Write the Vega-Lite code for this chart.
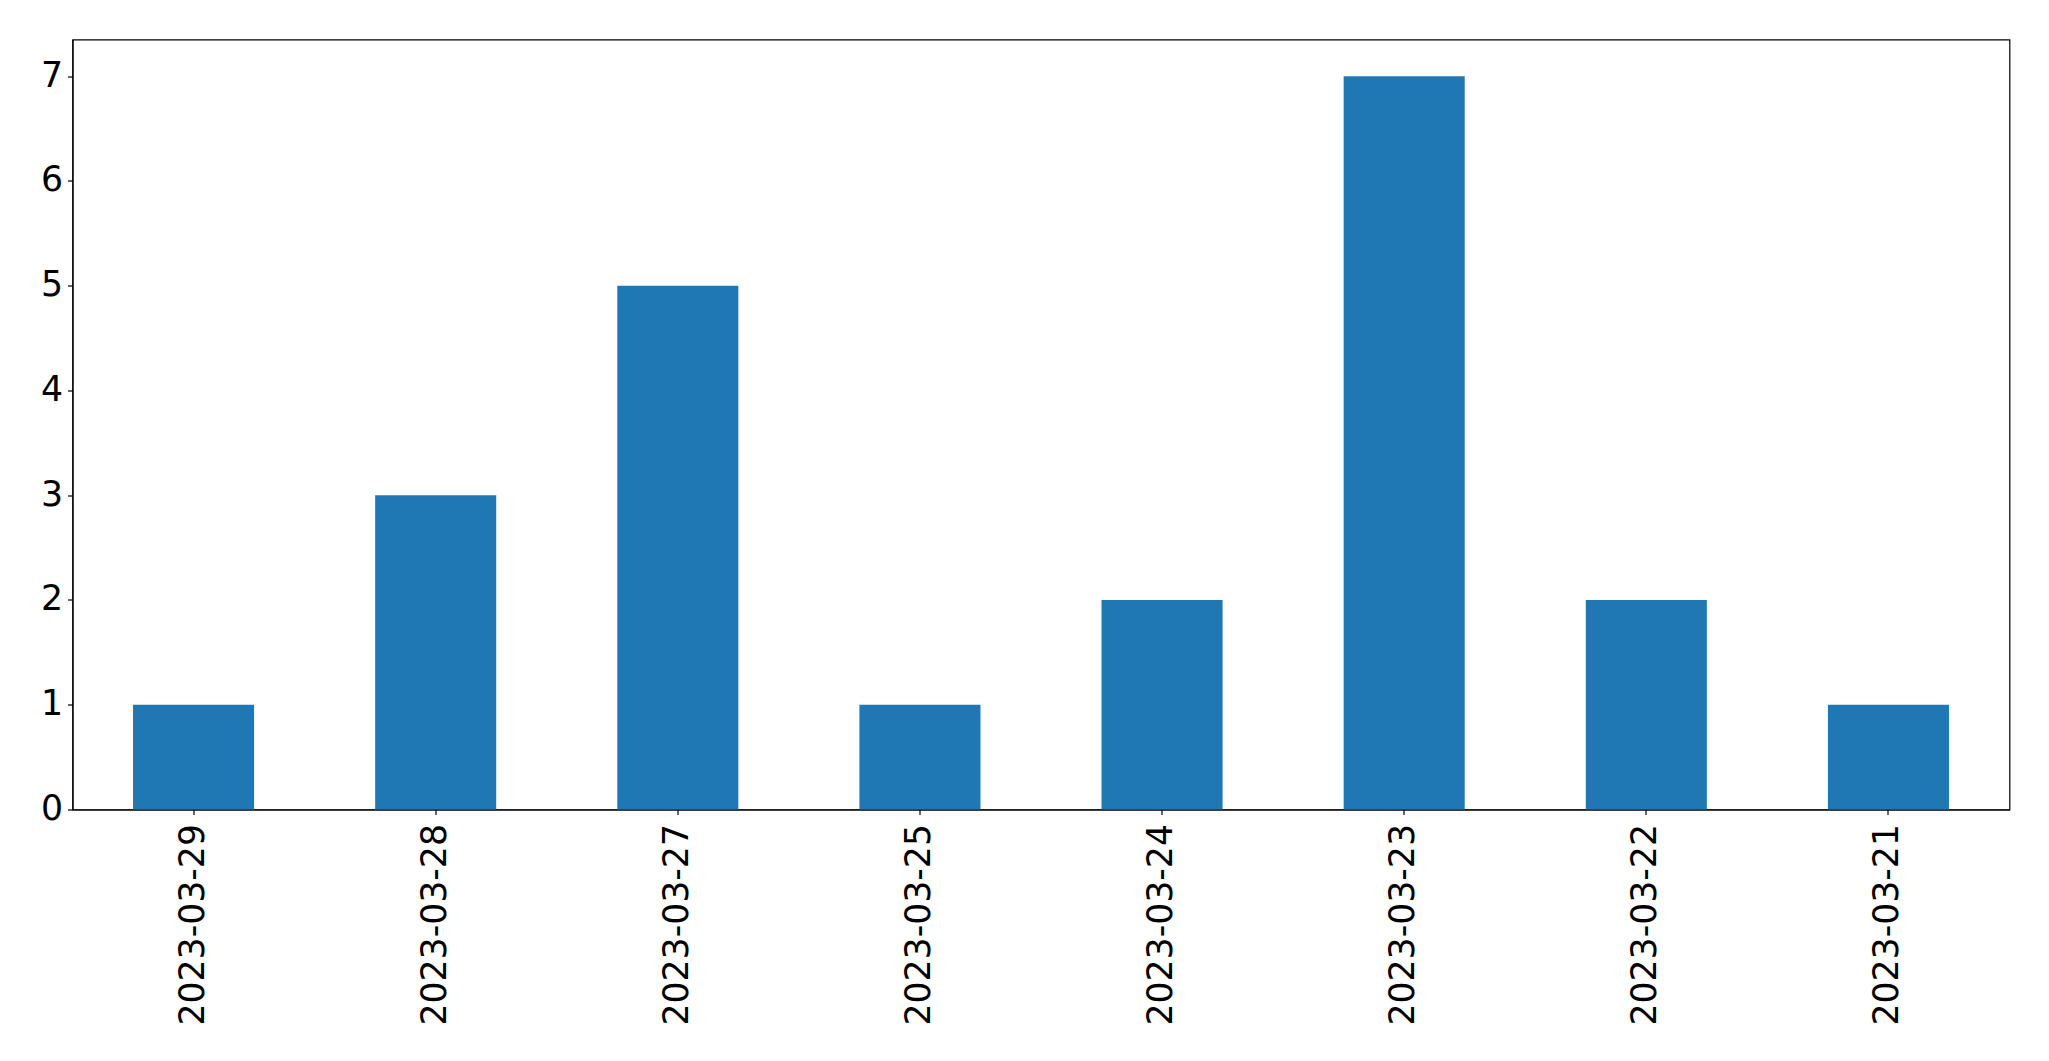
{
  "$schema": "https://vega.github.io/schema/vega-lite/v6.json",
  "autosize": "none",
  "width": 1937,
  "height": 770,
  "padding": {"left": 72.5, "top": 39.5, "right": 39, "bottom": 251},
  "background": "white",
  "config": {
    "view": {"stroke": "black", "strokeWidth": 1.2},
    "font": "DejaVu Sans"
  },
  "data": {
    "values": [
      {"date": "2023-03-29", "count": 1},
      {"date": "2023-03-28", "count": 3},
      {"date": "2023-03-27", "count": 5},
      {"date": "2023-03-25", "count": 1},
      {"date": "2023-03-24", "count": 2},
      {"date": "2023-03-23", "count": 7},
      {"date": "2023-03-22", "count": 2},
      {"date": "2023-03-21", "count": 1}
    ]
  },
  "mark": {"type": "bar", "color": "#1f77b4"},
  "encoding": {
    "x": {
      "field": "date",
      "type": "nominal",
      "sort": null,
      "scale": {"paddingInner": 0.5, "paddingOuter": 0.25},
      "axis": {
        "title": null,
        "labelAngle": -90,
        "labelFont": "DejaVu Sans",
        "labelFontSize": 34.7,
        "labelLimit": 0,
        "labelColor": "black",
        "labelPadding": 9,
        "tickColor": "black",
        "tickSize": 5,
        "tickWidth": 1.2,
        "domainColor": "black",
        "domainWidth": 1.2
      }
    },
    "y": {
      "field": "count",
      "type": "quantitative",
      "scale": {"domain": [0, 7.35], "nice": false, "zero": true},
      "axis": {
        "title": null,
        "values": [0, 1, 2, 3, 4, 5, 6, 7],
        "grid": false,
        "labelFont": "DejaVu Sans",
        "labelFontSize": 34.7,
        "labelColor": "black",
        "labelPadding": 5,
        "tickColor": "black",
        "tickSize": 5,
        "tickWidth": 1.2,
        "domainColor": "black",
        "domainWidth": 1.2
      }
    }
  }
}
